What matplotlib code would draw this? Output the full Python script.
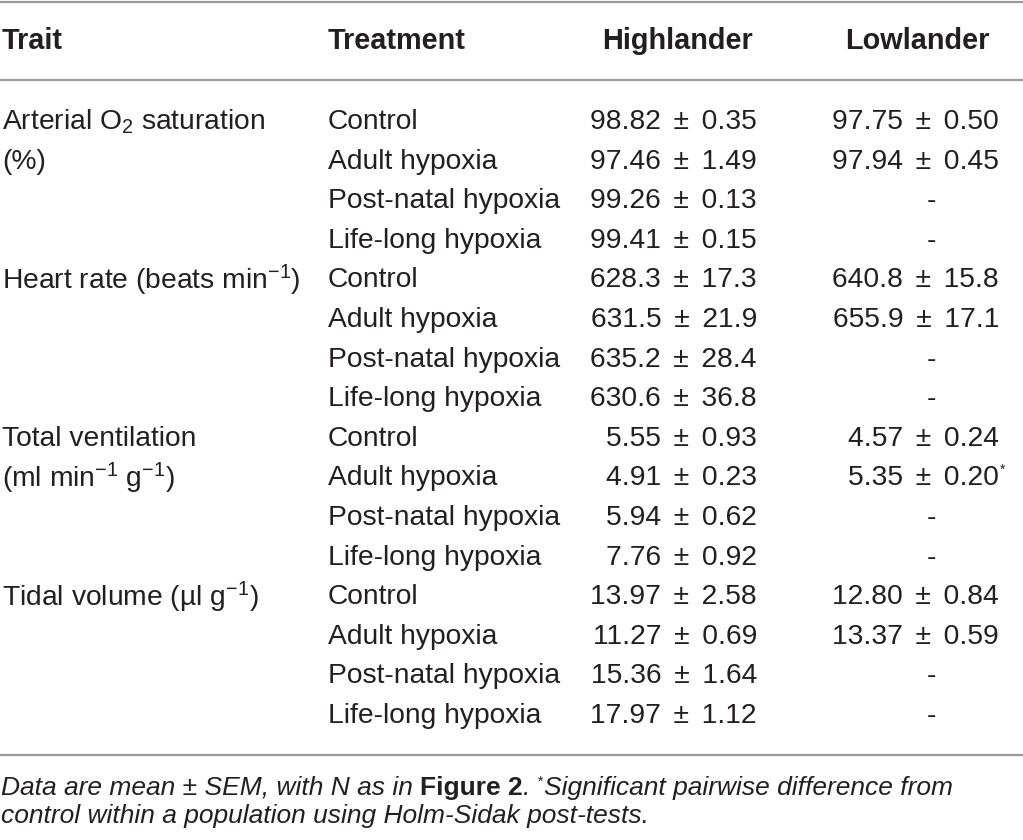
import matplotlib
matplotlib.use("Agg")
import matplotlib.pyplot as plt

plt.rcParams['font.family'] = ['Liberation Sans', 'DejaVu Sans']
plt.rcParams['mathtext.fontset'] = 'custom'
plt.rcParams['mathtext.rm'] = 'Liberation Sans'
plt.rcParams['mathtext.it'] = 'Liberation Sans:italic'
plt.rcParams['mathtext.bf'] = 'Liberation Sans:bold'

# Table content
headers = ["Trait", "Treatment", "Highlander", "Lowlander"]
traits = ["Arterial O$_2$ saturation\n(%)",
          "Heart rate (beats min$^{-1}$)",
          "Total ventilation\n(ml min$^{-1}$ g$^{-1}$)",
          "Tidal volume (\u00b5l g$^{-1}$)"]
treatments = ["Control", "Adult hypoxia", "Post-natal hypoxia", "Life-long hypoxia"]
high_mean = ["98.82", "97.46", "99.26", "99.41",
             "628.3", "631.5", "635.2", "630.6",
             "5.55", "4.91", "5.94", "7.76",
             "13.97", "11.27", "15.36", "17.97"]
high_sem = ["0.35", "1.49", "0.13", "0.15",
            "17.3", "21.9", "28.4", "36.8",
            "0.93", "0.23", "0.62", "0.92",
            "2.58", "0.69", "1.64", "1.12"]
low_mean = ["97.75", "97.94", None, None,
            "640.8", "655.9", None, None,
            "4.57", "5.35", None, None,
            "12.80", "13.37", None, None]
low_sem = ["0.50", "0.45", None, None,
           "15.8", "17.1", None, None,
           "0.24", "0.20", None, None,
           "0.84", "0.59", None, None]
low_sig = [False, False, False, False,
           False, False, False, False,
           False, True, False, False,
           False, False, False, False]

W, H = 1023, 840
fig = plt.figure(figsize=(W / 100, H / 100), dpi=100)
ax = fig.add_axes([0, 0, 1, 1])
ax.set_xlim(0, W)
ax.set_ylim(H, 0)
ax.axis('off')

txt = '#231f20'
line_c = '#9a9a9a'
fs = 20.3
hfs = 20.8
sp = ' \u2006'  # a bit wider gap around the plus-minus sign

# rules
for yy in [1.5, 80, 755]:
    ax.plot([0, W], [yy, yy], color=line_c, lw=1.6, solid_capstyle='butt')

# header
hy = 41
ax.text(2, hy, headers[0], fontsize=hfs, fontweight='bold', color=txt, va='center', ha='left')
ax.text(328, hy, headers[1], fontsize=hfs, fontweight='bold', color=txt, va='center', ha='left')
ax.text(678, hy, headers[2], fontsize=hfs, fontweight='bold', color=txt, va='center', ha='center')
ax.text(917, hy, headers[3], fontsize=hfs, fontweight='bold', color=txt, va='center', ha='center')

y0 = 122
dy = 39.6
for i in range(16):
    y = y0 + i * dy
    if i % 4 == 0:
        for k, part in enumerate(traits[i // 4].split('\n')):
            ax.text(2, y + k * dy, part, fontsize=fs, color=txt, va='center', ha='left')
    ax.text(328, y, treatments[i % 4], fontsize=fs, color=txt, va='center', ha='left')
    ax.text(757, y, f"{high_mean[i]}{sp}\u00b1{sp}{high_sem[i]}", fontsize=fs, color=txt,
            va='center', ha='right')
    if low_mean[i] is None:
        ax.text(931, y, "-", fontsize=fs, color=txt, va='center', ha='center')
    else:
        ax.text(999, y, f"{low_mean[i]}{sp}\u00b1{sp}{low_sem[i]}", fontsize=fs, color=txt,
                va='center', ha='right')
        if low_sig[i]:
            ax.text(1000, y - 9, "*", fontsize=10, color=txt, va='center', ha='left')

# footnote with mixed styles
fig.canvas.draw()
r = fig.canvas.get_renderer()
inv = ax.transData.inverted()
foot_fs = 19


def piece(x, y, s, **kw):
    t = ax.text(x, y, s, fontsize=kw.pop('size', foot_fs), color=txt, va='baseline', ha='left', **kw)
    bb = t.get_window_extent(renderer=r)
    return inv.transform((bb.x1, bb.y0))[0]


fy1 = 795
x = piece(1, fy1, "Data are mean \u00b1 SEM, with N as in ", style='italic')
x = piece(x, fy1, "Figure 2", fontweight='bold')
x = piece(x, fy1, ". ", style='italic')
x = piece(x, fy1 - 9, "*", size=10)
piece(x + 1, fy1, "Significant pairwise difference from", style='italic')
piece(1, 823, "control within a population using Holm-Sidak post-tests.", style='italic')

fig.savefig("out.png", dpi=100)
